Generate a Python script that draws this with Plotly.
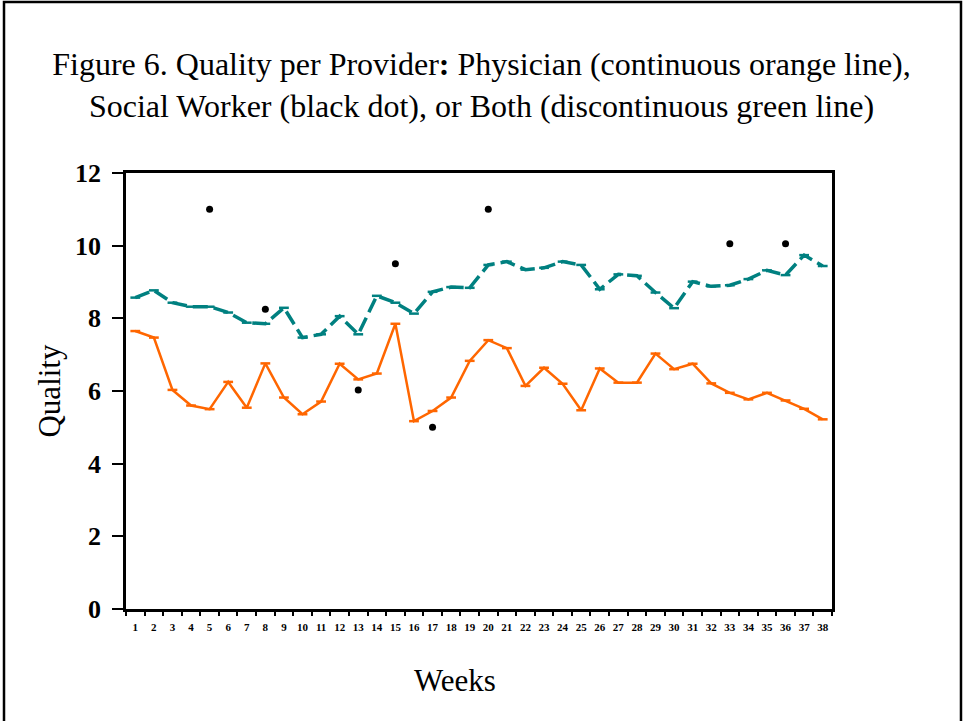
import plotly.graph_objects as go

# Haftalar ve kalite skorları
weeks = [str(w) for w in range(1, 39)]

physician = [7.65, 7.47, 6.03, 5.60, 5.50, 6.25, 5.54, 6.76, 5.82, 5.36,
             5.71, 6.75, 6.32, 6.48, 7.85, 5.17, 5.45, 5.82, 6.83, 7.40,
             7.18, 6.14, 6.64, 6.20, 5.47, 6.62, 6.23, 6.23, 7.03, 6.60,
             6.75, 6.21, 5.95, 5.77, 5.95, 5.74, 5.51, 5.22]

both = [8.57, 8.77, 8.43, 8.32, 8.32, 8.16, 7.88, 7.85, 8.29, 7.47,
        7.56, 8.06, 7.56, 8.62, 8.43, 8.13, 8.73, 8.86, 8.84, 9.47,
        9.56, 9.34, 9.39, 9.56, 9.47, 8.80, 9.21, 9.17, 8.71, 8.28,
        9.01, 8.88, 8.91, 9.08, 9.32, 9.19, 9.74, 9.44]

sw_weeks = ["5", "8", "13", "15", "17", "20", "33", "36"]
social_worker = [11.0, 8.25, 6.03, 9.5, 5.0, 11.0, 10.05, 10.05]

SERIF = "Liberation Serif, Times New Roman, serif"
ORANGE = "#FF6600"
TEAL = "#008080"

fig = go.Figure()

fig.add_trace(go.Scatter(
    x=weeks, y=both, mode="lines+markers",
    line=dict(color=TEAL, width=3.5, dash="15px,6px"),
    marker=dict(symbol="line-ew", size=7, line=dict(color=TEAL, width=2.5)),
    name="Both"
))

fig.add_trace(go.Scatter(
    x=weeks, y=physician, mode="lines+markers",
    line=dict(color=ORANGE, width=2.5),
    marker=dict(symbol="line-ew", size=7, line=dict(color=ORANGE, width=2.5)),
    name="Physician"
))

fig.add_trace(go.Scatter(
    x=sw_weeks, y=social_worker, mode="markers",
    marker=dict(color="black", size=7),
    name="Social Worker"
))

# Dış çerçeve
fig.add_shape(type="rect", xref="paper", yref="paper",
              x0=-0.1728, x1=1.1827, y0=-0.30, y1=1.392,
              line=dict(color="black", width=2.5), layer="below")

# x ekseni başlığı (biraz sola kaymış)
fig.add_annotation(text="Weeks", xref="paper", yref="paper",
                   x=0.466, y=-0.163, xanchor="center", yanchor="middle",
                   showarrow=False, font=dict(size=31, family=SERIF))

fig.update_layout(
    width=963, height=721,
    margin=dict(l=126, r=131, t=173, b=112),
    paper_bgcolor="white", plot_bgcolor="white",
    showlegend=False,
    font=dict(family=SERIF, color="black"),
    title=dict(
        text="Figure 6. Quality per Provider<b>:</b> Physician (continuous orange line),"
             "<br>Social Worker (black dot), or Both (discontinuous green line)",
        x=0.5, xanchor="center", xref="container",
        y=1 - 75 / 721, yanchor="middle", yref="container",
        font=dict(size=32, family=SERIF)
    ),
    xaxis=dict(
        type="category", categoryorder="array", categoryarray=weeks,
        range=[-0.5, 37.5],
        showline=True, linecolor="black", linewidth=2.5, mirror=True,
        showgrid=False, zeroline=False,
        ticks="outside", ticklen=4, tickwidth=2, tickcolor="black",
        tickson="boundaries", tickangle=0, ticklabelstandoff=6,
        tickfont=dict(size=11, family=SERIF, weight="bold")
    ),
    yaxis=dict(
        range=[0, 12], dtick=2, tick0=0,
        showline=True, linecolor="black", linewidth=2.5, mirror=True,
        showgrid=False, zeroline=False,
        ticks="outside", ticklen=11, tickwidth=2, tickcolor="black",
        ticklabelstandoff=6,
        tickfont=dict(size=26, family=SERIF, weight="bold"),
        title=dict(text="Quality", font=dict(size=31, family=SERIF), standoff=6)
    )
)

# sayfa kenar boşluğunu kaldır
fig.write_html("out.html", config={"displayModeBar": False},
               post_script="document.body.style.margin='0';")
